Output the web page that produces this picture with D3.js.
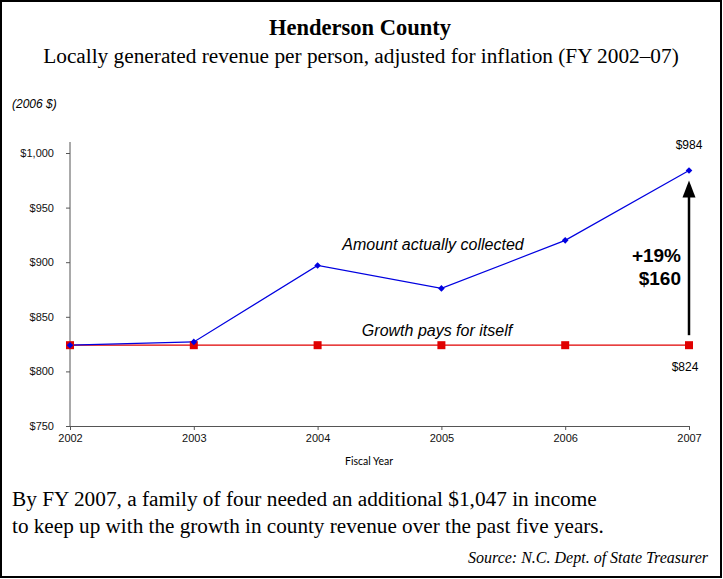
<!DOCTYPE html>
<html>
<head>
<meta charset="utf-8">
<script src="https://cdn.jsdelivr.net/npm/d3@7"></script>
<style>
  body { margin: 0; background: #fff; }
  svg { display: block; }
</style>
</head>
<body>
<script>
// chart data
let years = [2002, 2003, 2004, 2005, 2006, 2007];
let collected = [824, 827, 897, 876, 920, 984];
let growthPays = [824, 824, 824, 824, 824, 824];
let yTicks = [750, 800, 850, 900, 950, 1000];

let w = 723;
let h = 579;

let svg = d3.select("body")
    .append("svg")
    .attr("width", w)
    .attr("height", h);

// outer frame
svg.append("rect")
    .attr("x", 1).attr("y", 1)
    .attr("width", w - 3).attr("height", h - 3)
    .attr("fill", "white")
    .attr("stroke", "black")
    .attr("stroke-width", 2);

// scales
let x = d3.scaleLinear().domain([2002, 2007]).range([70, 689]);
let y = d3.scaleLinear().domain([750, 1000]).range([426, 153]);

// titles
svg.append("text")
    .attr("x", 360).attr("y", 35)
    .attr("text-anchor", "middle")
    .style("font-family", "Liberation Serif, serif")
    .style("font-weight", "bold")
    .style("font-size", "22.5px")
    .text("Henderson County");

svg.append("text")
    .attr("x", 361).attr("y", 63)
    .attr("text-anchor", "middle")
    .style("font-family", "Liberation Serif, serif")
    .style("font-size", "21.3px")
    .text("Locally generated revenue per person, adjusted for inflation (FY 2002\u201307)");

svg.append("text")
    .attr("x", 12).attr("y", 108)
    .style("font-family", "Liberation Sans, Arial, sans-serif")
    .style("font-style", "italic")
    .style("font-size", "12px")
    .text("(2006 $)");

// axes
let yAxis = d3.axisLeft(y)
    .tickValues(yTicks)
    .tickSize(4)
    .tickFormat(d => "$" + d3.format(",")(d));

let gy = svg.append("g")
    .attr("transform", "translate(70,0)")
    .call(yAxis);
gy.select(".domain").remove();
gy.append("line")
    .attr("x1", 0).attr("x2", 0)
    .attr("y1", 142).attr("y2", 426)
    .attr("stroke", "#555");

let xAxis = d3.axisBottom(x)
    .tickValues(years)
    .tickSize(4)
    .tickFormat(d3.format("d"));

let gx = svg.append("g")
    .attr("transform", "translate(0,426)")
    .call(xAxis);

svg.selectAll(".tick text")
    .style("font-family", "Liberation Sans, Arial, sans-serif")
    .style("font-size", "11px")
    .attr("fill", "#111");
gy.selectAll(".tick text").attr("x", -16);
gx.selectAll(".tick text").attr("y", 8);
svg.selectAll(".tick line").attr("stroke", "#555");
gx.select(".domain").attr("stroke", "#555");

svg.append("text")
    .attr("x", 369).attr("y", 465)
    .attr("text-anchor", "middle")
    .style("font-family", "Lato, sans-serif")
    .style("font-size", "10.5px")
    .text("Fiscal Year");

// lines
let line = d3.line()
    .x((d, i) => x(years[i]))
    .y(d => y(d));

svg.append("path")
    .datum(growthPays)
    .attr("d", line)
    .attr("fill", "none")
    .attr("stroke", "#e00000")
    .attr("stroke-width", 1.2);

svg.append("path")
    .datum(collected)
    .attr("d", line)
    .attr("fill", "none")
    .attr("stroke", "#0000e0")
    .attr("stroke-width", 1.2);

// markers
svg.selectAll("rect.sq")
    .data(growthPays)
    .enter()
    .append("rect")
    .attr("class", "sq")
    .attr("x", (d, i) => x(years[i]) - 4)
    .attr("y", d => y(d) - 4)
    .attr("width", 8)
    .attr("height", 8)
    .attr("fill", "#e00000");

svg.selectAll("path.dia")
    .data(collected)
    .enter()
    .append("path")
    .attr("class", "dia")
    .attr("d", d3.symbol().type(d3.symbolDiamond2).size(28))
    .attr("transform", (d, i) => "translate(" + x(years[i]) + "," + y(d) + ")")
    .attr("fill", "#0000e0");

// series labels
svg.append("text")
    .attr("x", 433).attr("y", 250)
    .attr("text-anchor", "middle")
    .style("font-family", "Liberation Sans, Arial, sans-serif")
    .style("font-style", "italic")
    .style("font-size", "16px")
    .text("Amount actually collected");

svg.append("text")
    .attr("x", 437).attr("y", 336)
    .attr("text-anchor", "middle")
    .style("font-family", "Liberation Sans, Arial, sans-serif")
    .style("font-style", "italic")
    .style("font-size", "16px")
    .text("Growth pays for itself");

// end labels
let last = years.length - 1;
svg.append("text")
    .attr("x", x(years[last])).attr("y", y(collected[last]) - 21)
    .attr("text-anchor", "middle")
    .style("font-family", "Liberation Sans, Arial, sans-serif")
    .style("font-size", "12px")
    .text("$" + collected[last]);

svg.append("text")
    .attr("x", x(years[last]) - 4).attr("y", y(growthPays[last]) + 26)
    .attr("text-anchor", "middle")
    .style("font-family", "Liberation Sans, Arial, sans-serif")
    .style("font-size", "12px")
    .text("$" + growthPays[last]);

// arrow
let ax = x(years[last]);
let y0 = y(growthPays[last]) - 10;
let y1 = y(collected[last]) + 10;
svg.append("line")
    .attr("x1", ax).attr("x2", ax)
    .attr("y1", y0).attr("y2", y1 + 12)
    .attr("stroke", "black")
    .attr("stroke-width", 2.5);
svg.append("path")
    .attr("d", "M" + ax + "," + y1 + " L" + (ax - 6.5) + "," + (y1 + 17) + " L" + (ax + 6.5) + "," + (y1 + 17) + " Z")
    .attr("fill", "black");

let diff = collected[last] - growthPays[last];
let pct = Math.round(diff / growthPays[last] * 100);
svg.append("text")
    .attr("x", 681).attr("y", 262)
    .attr("text-anchor", "end")
    .style("font-family", "Liberation Sans, Arial, sans-serif")
    .style("font-weight", "bold")
    .style("font-size", "19px")
    .text("+" + pct + "%");
svg.append("text")
    .attr("x", 681).attr("y", 285)
    .attr("text-anchor", "end")
    .style("font-family", "Liberation Sans, Arial, sans-serif")
    .style("font-weight", "bold")
    .style("font-size", "19px")
    .text("$" + diff);

// footnote text
svg.append("text")
    .attr("x", 12).attr("y", 506)
    .style("font-family", "Liberation Serif, serif")
    .style("font-size", "21.3px")
    .text("By FY 2007, a family of four needed an additional $1,047 in income");
svg.append("text")
    .attr("x", 12).attr("y", 533)
    .style("font-family", "Liberation Serif, serif")
    .style("font-size", "21.2px")
    .text("to keep up with the growth in county revenue over the past five years.");

svg.append("text")
    .attr("x", 708).attr("y", 563)
    .attr("text-anchor", "end")
    .style("font-family", "Liberation Serif, serif")
    .style("font-style", "italic")
    .style("font-size", "16px")
    .text("Source: N.C. Dept. of State Treasurer");
</script>
</body>
</html>
